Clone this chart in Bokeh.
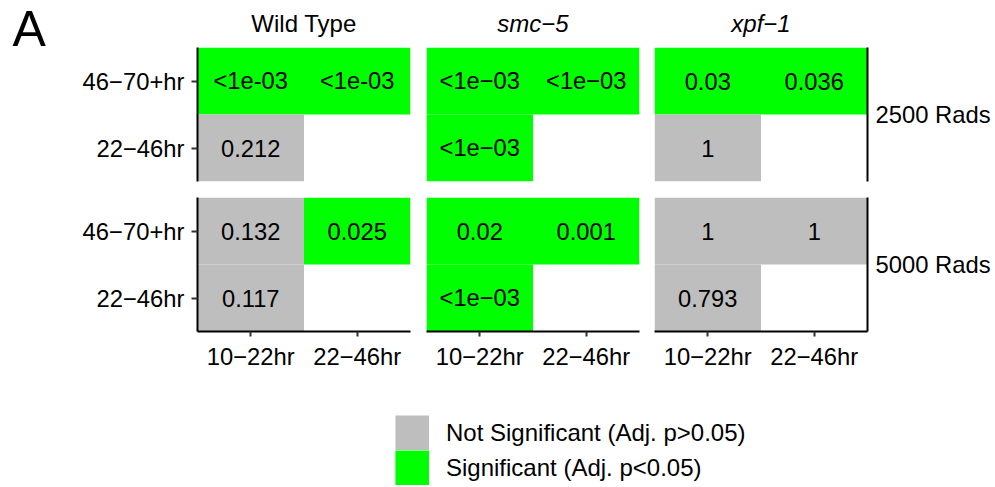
from bokeh.plotting import figure
from bokeh.layouts import column, row
from bokeh.models import (FactorRange, CategoricalAxis, ColumnDataSource, Label,
                          Legend, LegendItem, Range1d)
from bokeh.core.properties import value, field
from bokeh.embed import file_html
from bokeh.resources import INLINE

# ---------------- data ----------------
genotypes = ["Wild Type", "smc−5", "xpf−1"]
genotype_italic = [False, True, True]
doses = ["2500 Rads", "5000 Rads"]
x_levels = ["10−22hr", "22−46hr"]
y_levels = ["22−46hr", "46−70+hr"]

cell_x = ["10−22hr", "22−46hr", "10−22hr"]
cell_y = ["46−70+hr", "46−70+hr", "22−46hr"]

wt_2500 = ["<1e-03", "<1e-03", "0.212"]
smc5_2500 = ["<1e−03", "<1e−03", "<1e−03"]
xpf1_2500 = ["0.03", "0.036", "1"]
wt_5000 = ["0.132", "0.025", "0.117"]
smc5_5000 = ["0.02", "0.001", "<1e−03"]
xpf1_5000 = ["1", "1", "0.793"]

wt_2500_sig = [True, True, False]
smc5_2500_sig = [True, True, True]
xpf1_2500_sig = [True, True, False]
wt_5000_sig = [False, True, False]
smc5_5000_sig = [True, True, True]
xpf1_5000_sig = [False, False, False]

legend_labels = ["Not Significant (Adj. p>0.05)", "Significant (Adj. p<0.05)"]
legend_colors = ["#BEBEBE", "#00FF00"]
panel_tag = "A"

panel_labels = [[wt_2500, smc5_2500, xpf1_2500], [wt_5000, smc5_5000, xpf1_5000]]
panel_sig = [[wt_2500_sig, smc5_2500_sig, xpf1_2500_sig],
             [wt_5000_sig, smc5_5000_sig, xpf1_5000_sig]]

FONT = "Liberation Sans"
FS = "23.8px"

W, H = 995, 487
TAG_W = 60
LEFT = [197 - TAG_W, 8, 8]
RIGHT = [8, 7, 128]
FRAME_W = 213
FRAME_H = 134
TOP = [47, 8]
BOTTOM = [8, 45]
LEG_H = H - sum(TOP) - sum(BOTTOM) - 2 * FRAME_H


def style_axis(ax, tick_out):
    ax.axis_line_width = 2
    ax.axis_line_color = "black"
    ax.major_tick_line_color = "#333333"
    ax.major_tick_line_width = 2
    ax.major_tick_out = tick_out
    ax.major_tick_in = 0
    ax.minor_tick_line_color = None
    ax.major_label_text_font = FONT
    ax.major_label_text_font_size = FS
    ax.major_label_text_color = "black"


def make_panel(d, g):
    w = LEFT[g] + FRAME_W + RIGHT[g]
    h = TOP[d] + FRAME_H + BOTTOM[d]
    p = figure(width=w, height=h,
               x_range=FactorRange(*x_levels), y_range=FactorRange(*y_levels),
               output_backend="svg", toolbar_location=None,
               min_border_left=LEFT[g], min_border_right=RIGHT[g],
               min_border_top=TOP[d], min_border_bottom=BOTTOM[d],
               x_axis_location="below" if d == 1 else None,
               y_axis_location="left" if g == 0 else None,
               title=genotypes[g] if d == 0 else None)
    p.outline_line_color = None
    p.background_fill_color = "white"
    p.border_fill_color = "white"
    p.xgrid.grid_line_color = None
    p.ygrid.grid_line_color = None

    if d == 0:
        p.title.align = "center"
        p.title.vertical_align = "top"
        p.title.text_font = FONT
        p.title.text_font_size = "24px"
        p.title.text_font_style = "italic" if genotype_italic[g] else "normal"
        p.title.text_color = "black"
        p.title.standoff = 18

    labels = panel_labels[d][g]
    colors = [legend_colors[1] if s else legend_colors[0] for s in panel_sig[d][g]]
    src = ColumnDataSource(dict(x=cell_x, y=cell_y, label=labels, color=colors))
    p.rect(x="x", y="y", width=1, height=1, source=src,
           fill_color="color", line_color=None)
    p.text(x="x", y="y", text="label", source=src,
           text_align="center", text_baseline="middle",
           text_font=value(FONT), text_font_size="23.7px", text_color="black")

    for ax in p.xaxis:
        style_axis(ax, 5)
        ax.major_label_standoff = 6
    for ax in p.yaxis:
        style_axis(ax, 6)
        ax.major_label_standoff = 7

    if g == 2:
        p.extra_y_ranges = {"dose": FactorRange(factors=[doses[d]])}
        rax = CategoricalAxis(y_range_name="dose")
        style_axis(rax, 0)
        rax.major_tick_line_color = None
        rax.major_label_standoff = 8
        p.add_layout(rax, "right")
    return p


def blank(width, height, xr, yr):
    f = figure(width=width, height=height, x_range=xr, y_range=yr,
               output_backend="svg", toolbar_location=None, min_border=0,
               x_axis_location=None, y_axis_location=None)
    f.outline_line_color = None
    f.xgrid.grid_line_color = None
    f.ygrid.grid_line_color = None
    f.background_fill_color = "white"
    f.border_fill_color = "white"
    return f


# panel tag "A" in its own strip (pixel-like data space, top-down)
tag = blank(TAG_W, H, Range1d(0, TAG_W), Range1d(H, 0))
tag.add_layout(Label(x=12, y=56.5, text=panel_tag, text_font=FONT, text_font_size="50px",
                     text_color="black", text_baseline="bottom", text_align="left"))

row1 = row(*[make_panel(0, g) for g in range(3)], spacing=0)
row2 = row(*[make_panel(1, g) for g in range(3)], spacing=0)

# legend
leg = blank(W - TAG_W, LEG_H, FactorRange(*legend_labels), FactorRange(*legend_labels))
lsrc = ColumnDataSource(dict(label=legend_labels, color=legend_colors))
r = leg.rect(x="label", y="label", width=1, height=1, source=lsrc,
             fill_color="color", line_color="color", line_width=7, line_join="miter")
r.visible = False
legend = Legend(items=[LegendItem(label=field("label"), renderers=[r])],
                location=(395 - TAG_W, 2), orientation="vertical",
                glyph_width=34, glyph_height=35, label_height=35, spacing=0,
                padding=0, margin=0, label_standoff=17,
                label_text_font=FONT, label_text_font_size="24px",
                label_text_color="black",
                border_line_color=None, background_fill_alpha=0)
leg.add_layout(legend)

layout = row(tag, column(row1, row2, leg, spacing=0), spacing=0)

open("out.html", "w").write(file_html(layout, INLINE))
